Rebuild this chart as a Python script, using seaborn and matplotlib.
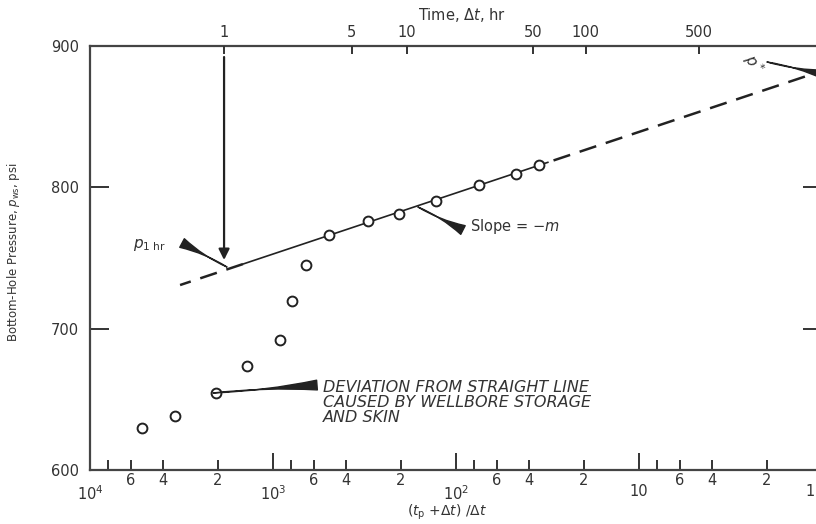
import matplotlib
matplotlib.use("Agg")
import matplotlib.pyplot as plt
import matplotlib.transforms as mtransforms
import seaborn as sns
import numpy as np

# Horner plot: values
horner_ratio = [5200, 3430, 2060, 1380, 915, 785, 663, 492, 302, 205, 129, 75, 47, 35]
pressure = [629.5, 638.4, 654.7, 673.6, 692.0, 719.6, 745.1, 766.1, 776.2, 781.1,
            790.5, 801.7, 809.2, 815.8]

tp = 1850        # producing time, hr
p_star = 882.4   # extrapolated pressure at (tp+dt)/dt = 1
slope_m = 43.2   # psi per log cycle

# extents of the straight line (in Horner ratio)
solid_H = [1460, 31.4]
dash_left_H = [3220, 1460]
dash_right_H = [31.4, 1.24]

# axis ticks
time_ticks = [1, 5, 10, 50, 100, 500]
major_H = [1e4, 1e3, 1e2, 10, 1]
major_labels = ["$10^4$", "$10^3$", "$10^2$", "10", ""]  # "1" drawn at the edge below
minor_H = [8000, 6000, 4000, 2000, 800, 600, 400, 200, 80, 60, 40, 20, 8, 6, 4, 2]
minor_labels = ["", "6", "4", "2"] * 4
p_ticks = [600, 700, 800, 900]

ink = "#222222"
txt = "#333333"

sns.set_style("ticks")
plt.rcParams["font.family"] = ["DejaVu Sans"]

fig = plt.figure(figsize=(8.16, 5.24), dpi=100)
ax = fig.add_axes([90 / 816, 54 / 524, 732 / 816, 424 / 524])


def horner_line(h):
    h = np.array(h, dtype=float)
    return p_star - slope_m * np.log10(h)


sns.lineplot(x=solid_H, y=horner_line(solid_H), ax=ax, color=ink, linewidth=1.2)
for seg in (dash_left_H, dash_right_H):
    sns.lineplot(x=seg, y=horner_line(seg), ax=ax, color=ink, linewidth=1.8,
                 linestyle=(0, (7, 4)))
sns.scatterplot(x=horner_ratio, y=pressure, ax=ax, marker="o", s=50,
                facecolor="white", edgecolor=ink, linewidth=1.4, zorder=3)

ax.set_xscale("log")
ax.set_xlim(1e4, 1)
ax.set_ylim(600, 900)

ax.set_xticks(major_H, labels=major_labels)
ax.set_xticks(minor_H, labels=minor_labels, minor=True)
ax.set_yticks(p_ticks)
ax.tick_params(axis="x", which="major", direction="in", length=12, width=1.4,
               pad=10, labelsize=10.5, colors=txt)
ax.tick_params(axis="x", which="minor", direction="in", length=7, width=1.4,
               pad=2, labelsize=10.5, colors=txt)
ax.tick_params(axis="y", direction="in", length=14, width=1.4, pad=8,
               labelsize=10.5, colors=txt, right=True)
for s in ax.spines.values():
    s.set_linewidth(1.6)
    s.set_color("#444444")
# decade label "1" sits on the figure edge, keep it inside
edge = mtransforms.blended_transform_factory(fig.transFigure, ax.transAxes)
ax.text(0.998, -0.05, "1", transform=edge, fontsize=10.5,
        color=txt, ha="right", va="center")

ax.set_xlabel(r"($t_\mathrm{p}$ +$\Delta t$) /$\Delta t$", fontsize=10, color=txt)
ax.xaxis.set_label_coords(0.488, -0.076)
ax.set_ylabel(r"Bottom-Hole Pressure, $p_\mathrm{ws}$, psi", fontsize=8.5, color=txt)
ax.yaxis.set_label_coords(-0.093, 0.514)

# top axis in shut-in time
ax2 = ax.twiny()
ax2.set_xscale("log")
ax2.set_xlim(ax.get_xlim())
ax2.set_xticks([(tp + d) / d for d in time_ticks], labels=[str(d) for d in time_ticks])
ax2.set_xticks([], minor=True)
ax2.tick_params(axis="x", direction="in", length=6, width=1.4, pad=4,
                labelsize=10.5, colors=txt)
ax2.set_xlabel(r"Time, $\Delta t$, hr", fontsize=10.5, color=txt)
ax2.xaxis.set_label_coords(0.508, 1.062)
for s in ax2.spines.values():
    s.set_visible(False)

# annotations
ax.annotate("", xy=(tp + 1, 748.6), xytext=(tp + 1, 892.2),
            arrowprops=dict(arrowstyle="-|>", color=ink, lw=1.6,
                            mutation_scale=16, shrinkA=0, shrinkB=0))
wedge = dict(arrowstyle="wedge,tail_width=0.35,shrink_factor=0.05", color=ink,
             mutation_scale=20, shrinkA=0, shrinkB=0)
ax.annotate("", xy=(1783, 743.6), xytext=(3140, 760.6), arrowprops=wedge)
ax.text(4700, 759, r"$p_{1\ \mathrm{hr}}$", fontsize=11, color=txt,
        ha="center", va="center")
ax.annotate("", xy=(161.5, 786.1), xytext=(91.6, 769.8), arrowprops=wedge)
ax.text(84, 772.6, r"Slope = $-m$", fontsize=10.5, color=txt, ha="left", va="center")
ax.annotate("", xy=(2128, 654.5), xytext=(575, 660.1), arrowprops=wedge)
ax.text(533, 663.5, "DEVIATION FROM STRAIGHT LINE\nCAUSED BY WELLBORE STORAGE\nAND SKIN",
        fontsize=11.5, style="italic", color=txt, ha="left", va="top",
        linespacing=0.98)
ax.annotate("", xy=(2.0, 888.7), xytext=(0.95, 879.5), arrowprops=wedge,
            annotation_clip=False)
ax.text(2.38, 887.3, r"$p^*$", fontsize=11, color=txt, rotation=-60,
        ha="center", va="center")

fig.savefig("out.png", dpi=100)
